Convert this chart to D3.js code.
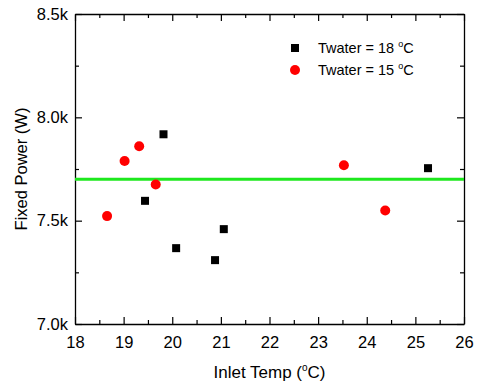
<!DOCTYPE html>
<html>
<head>
<meta charset="utf-8">
<script src="https://cdn.jsdelivr.net/npm/d3@7"></script>
<style>
  body { margin: 0; background: #fff; }
  svg { font-family: Arial, "Liberation Sans", sans-serif; }
  .axis path { stroke: #000; stroke-width: 1.3; }
  .axis line { stroke: #000; stroke-width: 1.2; }
</style>
</head>
<body>
<svg id="chart" width="477" height="385"></svg>
<script>
'use strict';

// Twater = 18 C
const temp18 = [19.44, 19.82, 20.08, 20.88, 21.06, 25.26];
const power18 = [7596, 7918, 7367, 7309, 7459, 7754];

// Twater = 15 C
const temp15 = [18.66, 19.02, 19.32, 19.66, 23.53, 24.38];
const power15 = [7522, 7789, 7860, 7675, 7768, 7549];

const fixedPower = 7700;
const xTicks = [18, 19, 20, 21, 22, 23, 24, 25, 26];
const yTicks = [7000, 7500, 8000, 8500];
const yTickLabels = ['7.0k', '7.5k', '8.0k', '8.5k'];

const margin = { top: 14, right: 13, bottom: 61, left: 75 };
const width = 477 - margin.left - margin.right;
const height = 385 - margin.top - margin.bottom;

const svg = d3.select('#chart');
const g = svg.append('g').attr('transform', `translate(${margin.left},${margin.top})`);

const x = d3.scaleLinear().domain([18, 26]).range([0, width]);
const y = d3.scaleLinear().domain([7000, 8500]).range([height, 0]);

const xMinor = d3.range(18.5, 26, 1);
const yMinor = [7250, 7750, 8250];

// minor ticks first, then major axes on top
function minor(axis, scale, vals, transform) {
    g.append('g')
        .attr('class', 'axis')
        .attr('transform', transform)
        .call(axis(scale).tickValues(vals).tickSize(-4).tickFormat(''))
        .select('.domain').remove();
}
minor(d3.axisBottom, x, xMinor, `translate(0,${height})`);
minor(d3.axisTop, x, xMinor, 'translate(0,0)');
minor(d3.axisLeft, y, yMinor, 'translate(0,0)');
minor(d3.axisRight, y, yMinor, `translate(${width},0)`);

g.append('g')
    .attr('class', 'axis')
    .attr('transform', `translate(0,${height})`)
    .call(d3.axisBottom(x).tickValues(xTicks).tickSizeInner(-7).tickSizeOuter(0).tickPadding(12));

g.append('g')
    .attr('class', 'axis')
    .call(d3.axisLeft(y).tickValues(yTicks).tickSizeInner(-7).tickSizeOuter(0).tickPadding(7)
        .tickFormat((d, i) => yTickLabels[i]));

g.append('g')
    .attr('class', 'axis')
    .call(d3.axisTop(x).tickValues(xTicks).tickSizeInner(-7).tickSizeOuter(0).tickFormat(''));

g.append('g')
    .attr('class', 'axis')
    .attr('transform', `translate(${width},0)`)
    .call(d3.axisRight(y).tickValues(yTicks).tickSizeInner(-7).tickSizeOuter(0).tickFormat(''));

svg.selectAll('.axis text').attr('font-size', 16.5).attr('fill', '#000')
    .attr('font-family', 'Arial, "Liberation Sans", sans-serif');

// fixed power line
g.append('line')
    .attr('x1', x(18)).attr('x2', x(26))
    .attr('y1', y(fixedPower)).attr('y2', y(fixedPower))
    .attr('stroke', '#1ee81e')
    .attr('stroke-width', 3);

// data
const sq = 8;
g.selectAll('.sq')
    .data(d3.zip(temp18, power18))
    .join('rect')
    .attr('x', d => x(d[0]) - sq / 2)
    .attr('y', d => y(d[1]) - sq / 2)
    .attr('width', sq)
    .attr('height', sq)
    .attr('fill', '#000');

g.selectAll('.dot')
    .data(d3.zip(temp15, power15))
    .join('circle')
    .attr('cx', d => x(d[0]))
    .attr('cy', d => y(d[1]))
    .attr('r', 5)
    .attr('fill', '#f00');

// legend
const legend = g.append('g').attr('transform', 'translate(220,34)');
const items = [
    { label: 'Twater = 18 ', type: 'square' },
    { label: 'Twater = 15 ', type: 'circle' }
];
items.forEach((item, i) => {
    const row = legend.append('g').attr('transform', `translate(0,${i * 22})`);
    if (item.type === 'square')
        row.append('rect').attr('x', -4).attr('y', -4).attr('width', sq).attr('height', sq).attr('fill', '#000');
    else
        row.append('circle').attr('r', 5).attr('fill', '#f00');
    const t = row.append('text')
        .attr('x', 23)
        .attr('y', 5)
        .attr('font-size', 14.5)
        .text(item.label);
    t.append('tspan').attr('font-size', 9).attr('dy', -6).text('o');
    t.append('tspan').attr('dy', 6).text('C');
});

// axis titles
const xTitle = svg.append('text')
    .attr('x', margin.left + width / 2)
    .attr('y', 378)
    .attr('text-anchor', 'middle')
    .attr('font-size', 17)
    .text('Inlet Temp (');
xTitle.append('tspan').attr('font-size', 10).attr('dy', -7).text('o');
xTitle.append('tspan').attr('dy', 7).text('C)');

svg.append('text')
    .attr('transform', `translate(27,${margin.top + height / 2}) rotate(-90)`)
    .attr('text-anchor', 'middle')
    .attr('font-size', 16.5)
    .text('Fixed Power (W)');
</script>
</body>
</html>
